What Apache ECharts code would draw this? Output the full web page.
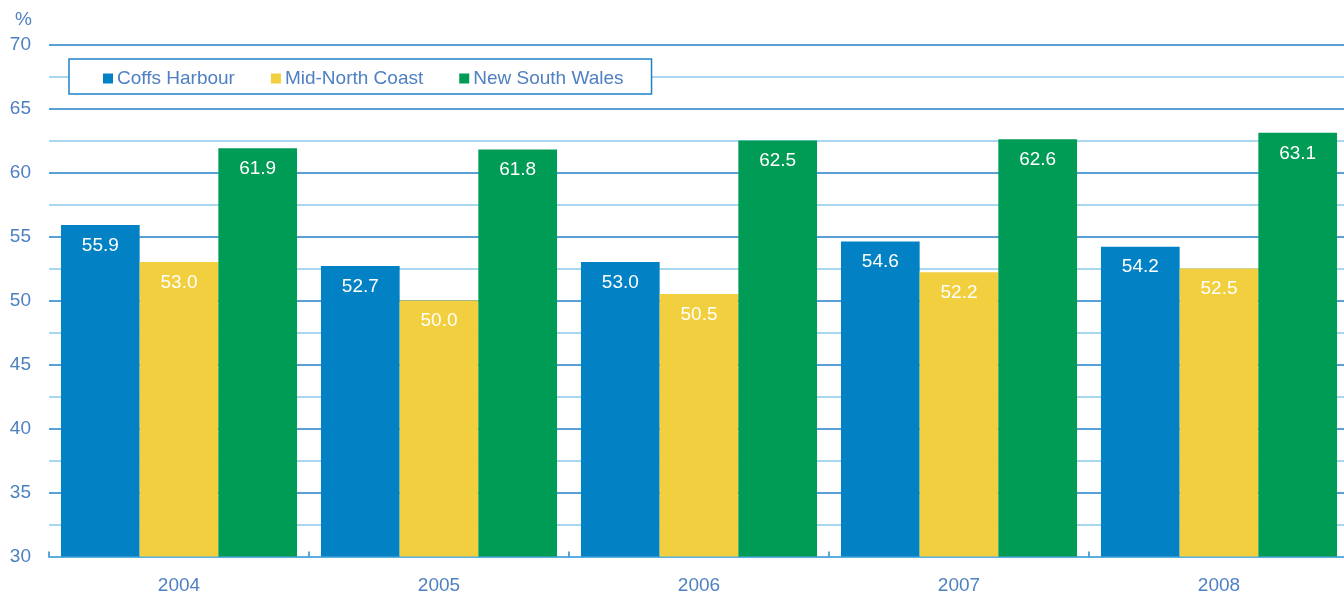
<!DOCTYPE html>
<html>
<head>
<meta charset="utf-8">
<script src="https://cdn.jsdelivr.net/npm/echarts@6/dist/echarts.min.js"></script>
<style>
  html, body { margin: 0; padding: 0; background: #ffffff; }
  #chart { width: 1344px; height: 594px; }
</style>
</head>
<body>
<div id="chart"></div>
<script>
// Share of population (%) by year and region
const years = ['2004', '2005', '2006', '2007', '2008'];
const coffsHarbour = [55.9, 52.7, 53.0, 54.6, 54.2];
const midNorthCoast = [53.0, 50.0, 50.5, 52.2, 52.5];
const newSouthWales = [61.9, 61.8, 62.5, 62.6, 63.1];
const seriesNames = ['Coffs Harbour', 'Mid-North Coast', 'New South Wales'];

const FONT = '"Liberation Sans", Arial, sans-serif';
const TEXT_BLUE = '#4f80c2';

function barSeries(name, data, color) {
  return {
    name: name,
    type: 'bar',
    data: data,
    barGap: '0%',
    barCategoryGap: '9.2%',
    itemStyle: { color: color },
    label: {
      show: true,
      position: 'insideTop',
      distance: 11,
      color: '#ffffff',
      fontFamily: FONT,
      fontSize: 19,
      formatter: p => p.value.toFixed(1)
    }
  };
}

const chart = echarts.init(document.getElementById('chart'), null, { renderer: 'canvas' });
chart.setOption({
  animation: false,
  backgroundColor: '#ffffff',
  // plot area runs slightly past the right edge of the page
  grid: {
    left: 49, width: 1300, top: 44.5, bottom: 37.5,
    containLabel: false,
    outerBoundsMode: 'none'
  },
  graphic: [{
    type: 'text', left: 15, top: 10,
    style: { text: '%', fill: TEXT_BLUE, font: '19px ' + FONT }
  }],
  legend: {
    data: seriesNames,
    left: 69, top: 59,
    padding: [10, 28, 6, 34],
    backgroundColor: '#ffffff',
    borderColor: '#1f82c8',
    borderWidth: 1.5,
    icon: 'rect',
    itemWidth: 10, itemHeight: 10,
    itemGap: 36,
    textStyle: { color: TEXT_BLUE, fontFamily: FONT, fontSize: 19, padding: [0, 0, 0, -1] }
  },
  xAxis: {
    type: 'category',
    data: years,
    axisLine: { lineStyle: { color: '#5aaee0', width: 2 } },
    axisTick: { show: true, inside: true, length: 5, lineStyle: { color: '#2a86c8', width: 1.5 } },
    axisLabel: { color: TEXT_BLUE, fontFamily: FONT, fontSize: 19, margin: 20 }
  },
  yAxis: {
    type: 'value',
    min: 30, max: 70, interval: 5,
    axisLine: { show: false },
    axisTick: { show: false },
    axisLabel: { color: TEXT_BLUE, fontFamily: FONT, fontSize: 19, margin: 18 },
    splitLine: { lineStyle: { color: '#1f82c8', width: 1.5 } },
    minorTick: { show: false, splitNumber: 2 },
    minorSplitLine: { show: true, lineStyle: { color: '#8ccbea', width: 1.5 } }
  },
  series: [
    barSeries(seriesNames[0], coffsHarbour, '#0282c4'),
    barSeries(seriesNames[1], midNorthCoast, '#f2cf3f'),
    barSeries(seriesNames[2], newSouthWales, '#009b55')
  ]
});
</script>
</body>
</html>
